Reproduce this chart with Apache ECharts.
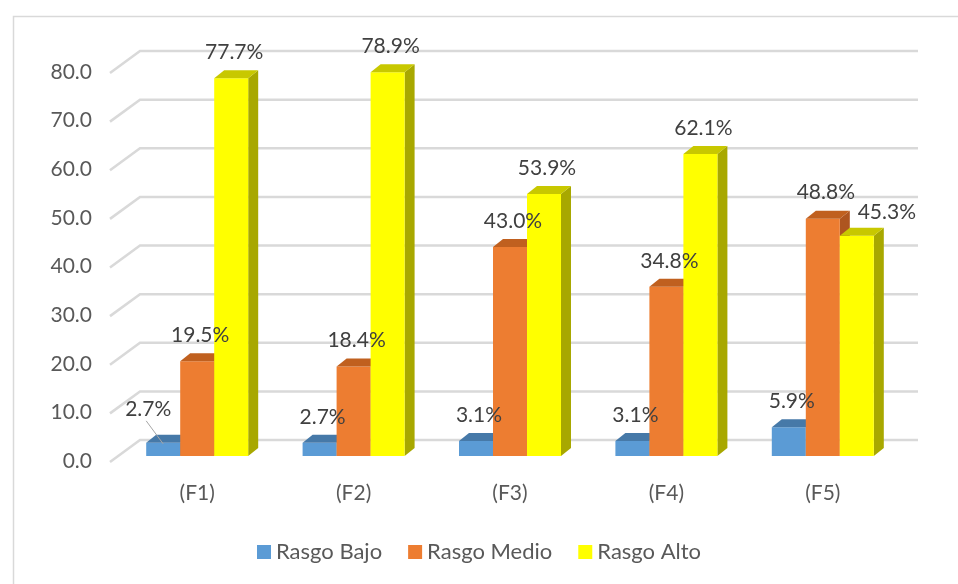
<!DOCTYPE html>
<html>
<head>
<meta charset="utf-8">
<script src="https://cdn.jsdelivr.net/npm/echarts@6/dist/echarts.min.js"></script>
<style>
  html, body { margin: 0; padding: 0; background: #fff; }
  #chart { width: 958px; height: 584px; }
</style>
</head>
<body>
<div id="chart"></div>
<script>
// data
const categories = ['(F1)', '(F2)', '(F3)', '(F4)', '(F5)'];
const seriesNames = ['Rasgo Bajo', 'Rasgo Medio', 'Rasgo Alto'];
const rasgoBajo = [2.7, 2.7, 3.1, 3.1, 5.9];
const rasgoMedio = [19.5, 18.4, 43.0, 34.8, 48.8];
const rasgoAlto = [77.7, 78.9, 53.9, 62.1, 45.3];
const yTicks = [0, 10, 20, 30, 40, 50, 60, 70, 80];

// look of the 3d bars
const BW = 34, DX = 10, DY = 8;
const FONT = 'Lato, "Open Sans", sans-serif';
const FS = 21;
const palette = [
  { front: '#5B9BD5', top: '#4679A8', side: '#3F6E99' },
  { front: '#ED7D31', top: '#C0601F', side: '#AE5520' },
  { front: '#FFFF00', top: '#C8C800', side: '#A8A800' }
];
// label nudges where excel moved them
const labelNudge = { '0-0': { dx: -18, dy: -8, leader: true }, '2-4': { dx: 27, dy: 3 } };

let chart = echarts.init(document.getElementById('chart'));

function barX(sIdx, api, i, v) {
  const top = api.coord([i, v]);
  const base = api.coord([i, 0]);
  return { cx: top[0] + (sIdx - 1) * BW, ty: top[1], by: base[1] };
}

function bar3d(sIdx, values) {
  const c = palette[sIdx];
  return {
    name: seriesNames[sIdx],
    type: 'custom',
    itemStyle: { color: c.front },
    data: values.map((v, i) => [i, v]),
    z: 3 + sIdx,
    renderItem: function (params, api) {
      const p = barX(sIdx, api, api.value(0), api.value(1));
      const x0 = p.cx - BW / 2, x1 = p.cx + BW / 2;
      return {
        type: 'group',
        children: [
          { type: 'polygon', shape: { points: [[x1, p.ty], [x1 + DX, p.ty - DY], [x1 + DX, p.by - DY], [x1, p.by]] }, style: { fill: c.side } },
          { type: 'rect', shape: { x: x0, y: p.ty, width: BW, height: p.by - p.ty }, style: { fill: c.front } },
          { type: 'polygon', shape: { points: [[x0, p.ty], [x1, p.ty], [x1 + DX, p.ty - DY], [x0 + DX, p.ty - DY]] }, style: { fill: c.top } }
        ]
      };
    }
  };
}

// value labels sit above every bar, so they get their own series on top
function barLabels(sIdx, values) {
  return {
    type: 'custom',
    z: 20,
    silent: true,
    data: values.map((v, i) => [i, v]),
    renderItem: function (params, api) {
      const i = api.value(0), v = api.value(1);
      const p = barX(sIdx, api, i, v);
      const nudge = labelNudge[sIdx + '-' + i] || { dx: 0, dy: 0 };
      const lx = p.cx + 3 + nudge.dx, ly = p.ty - 26 + nudge.dy;
      const kids = [{
        type: 'text', x: lx, y: ly,
        style: { text: v.toFixed(1) + '%', fill: '#404040', font: FS + 'px ' + FONT, align: 'center', verticalAlign: 'middle' }
      }];
      if (nudge.leader) {
        kids.push({ type: 'line', shape: { x1: lx - 2, y1: ly + 12, x2: p.cx, y2: p.ty + 1 }, style: { stroke: '#a6a6a6', lineWidth: 1 } });
      }
      return { type: 'group', children: kids };
    }
  };
}

// back wall gridlines with the little diagonal at the left, and the tick labels
const wallLines = {
  type: 'custom',
  z: 1,
  silent: true,
  data: yTicks.map(t => [0, t]),
  renderItem: function (params, api) {
    const t = api.value(1);
    const y = api.coord([0, t])[1];
    const cs = params.coordSys;
    return {
      type: 'group',
      children: [
        {
          type: 'polyline',
          shape: { points: [[cs.x - 9, y + 6], [cs.x + 21, y - 16], [cs.x + cs.width + 17, y - 16]] },
          style: { stroke: '#d9d9d9', lineWidth: 2.5, fill: null }
        },
        {
          type: 'text', x: cs.x - 27, y: y + 5,
          style: { text: t.toFixed(1), fill: '#595959', font: FS + 'px ' + FONT, align: 'right', verticalAlign: 'middle' }
        }
      ]
    };
  }
};

chart.setOption({
  backgroundColor: '#fff',
  animation: false,
  textStyle: { fontFamily: FONT },
  graphic: [{
    type: 'rect', left: 11, top: 14, z: -1,
    shape: { width: 960, height: 600 },
    style: { fill: 'none', stroke: '#d9d9d9', lineWidth: 1.5 }
  }],
  grid: { left: 119, right: 57, top: 67, bottom: 128 },
  xAxis: {
    type: 'category',
    data: categories,
    axisLine: { show: false },
    axisTick: { show: false },
    axisLabel: { margin: 27, fontSize: FS, color: '#595959', fontFamily: FONT }
  },
  yAxis: {
    type: 'value',
    min: 0, max: 80, interval: 10,
    axisLine: { show: false },
    axisTick: { show: false },
    splitLine: { show: false },
    axisLabel: { show: false }
  },
  legend: {
    data: seriesNames,
    bottom: 16,
    left: 'center',
    icon: 'rect',
    itemWidth: 14, itemHeight: 14, itemGap: 26,
    textStyle: { fontSize: 22, color: '#595959', fontFamily: FONT }
  },
  series: [
    wallLines,
    bar3d(0, rasgoBajo), bar3d(1, rasgoMedio), bar3d(2, rasgoAlto),
    barLabels(0, rasgoBajo), barLabels(1, rasgoMedio), barLabels(2, rasgoAlto)
  ]
});
</script>
</body>
</html>
